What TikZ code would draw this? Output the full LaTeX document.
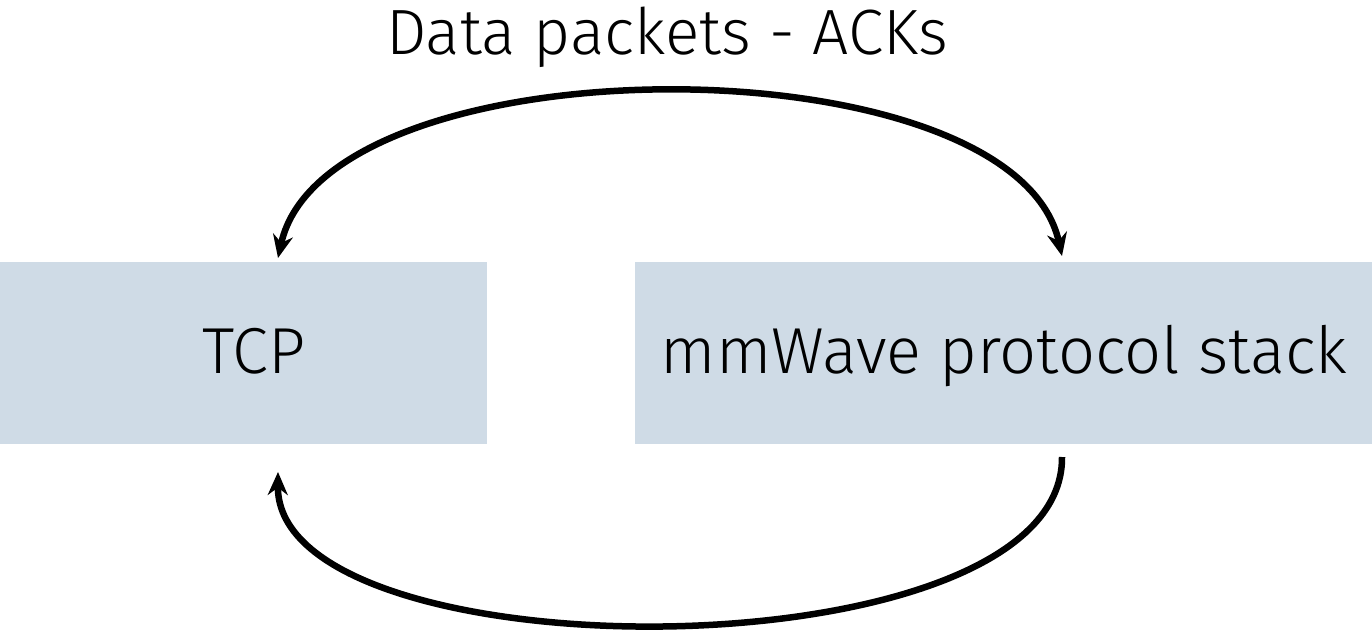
\documentclass[tikz,border=0pt]{standalone}
\usepackage{fontspec}
\setmainfont{Fira Sans}[UprightFont=* Light]
\usetikzlibrary{arrows.meta}
\definecolor{boxfill}{RGB}{207,219,230}
\begin{document}
\begin{tikzpicture}[x=1pt,y=-1pt,
  layerbox/.style={fill=boxfill, draw=none, inner sep=0pt, anchor=north west},
  lbl/.style={font=\fontsize{65}{70}\selectfont, inner sep=0pt, anchor=base},
  tip/.tip={Stealth[length=23pt,width=20pt]},
  arc/.style={line width=6.5pt, -tip}]
\useasboundingbox (0,0) rectangle (1372,629);
\node[layerbox, minimum width=487pt, minimum height=182pt] (tcp) at (0,262) {};
\node[layerbox, minimum width=737pt, minimum height=182pt] (mmw) at (635,262) {};
\node[lbl] (tcpl) at (254,373) {TCP};
\node[lbl] (mmwl) at (1004,373) {mmWave protocol stack};
\node[lbl, font=\fontsize{64}{70}\selectfont] (title) at (667,54) {Data packets - ACKs};
\coordinate (tl) at (278,258);
\coordinate (tr) at (1062,256);
\coordinate (br) at (1062,457);
\coordinate (bl) at (278,472);
\draw[line width=6.5pt, tip-tip] (tl) .. controls (326,38) and (1014,38) .. (tr);
\draw[arc] (br) .. controls (1064,678) and (276,678) .. (bl);
\end{tikzpicture}
\end{document}
